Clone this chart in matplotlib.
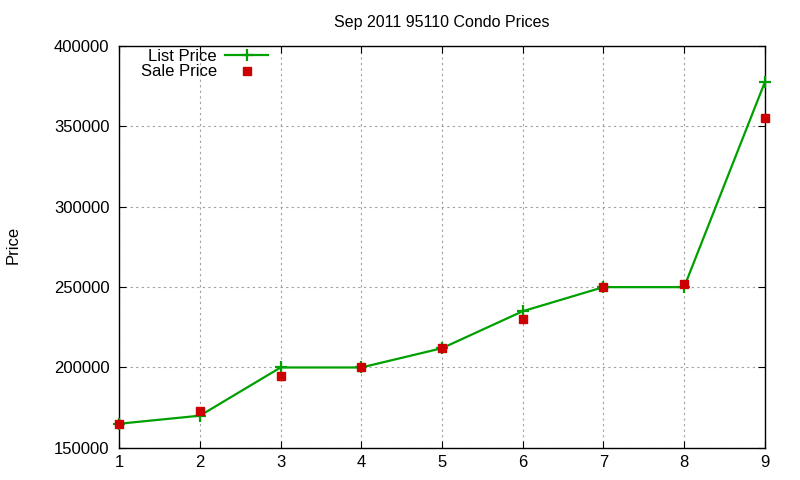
import matplotlib
matplotlib.use("Agg")
import matplotlib.pyplot as plt

plt.rcParams['font.family'] = ['Liberation Sans', 'DejaVu Sans']

months = [1, 2, 3, 4, 5, 6, 7, 8, 9]
list_price = [165000, 170000, 200000, 200000, 212000, 235000, 250000, 250000, 377500]
sale_price = [165000, 173000, 195000, 200000, 212000, 230000, 250000, 252000, 355000]

fig = plt.figure(figsize=(8, 4.8), dpi=100)
ax = fig.add_axes([0.149, 0.067, 0.807, 0.837])

ax.plot(months, list_price, color='#00a000', lw=1.6, marker='+', ms=9, mew=1.6,
        label='List Price', clip_on=False, zorder=3)
ax.plot(months, sale_price, ls='none', color='#cc0000', marker='s', ms=6,
        label='Sale Price', clip_on=False, zorder=4)

ax.set_xlim(1, 9)
ax.set_ylim(150000, 400000)
ax.set_xticks(months)
ax.set_yticks(range(150000, 400001, 50000))
ax.tick_params(direction='in', top=True, right=True, labelsize=12, length=5)
ax.tick_params(axis='y', pad=7)
ax.tick_params(axis='x', pad=5)
ax.grid(True, color='#a0a0a0', ls=(0, (2, 3)), lw=0.8)
for s in ax.spines.values():
    s.set_linewidth(1.0)

ax.set_title('Sep 2011 95110 Condo Prices', fontsize=11.5, pad=14)
# y label placed near the left edge, as gnuplot does
fig.text(0.016, 0.49, 'Price', rotation=90, fontsize=12, ha='center', va='center')

leg = ax.legend(loc='upper left', bbox_to_anchor=(0.015, 1.023), markerfirst=False,
                frameon=False, fontsize=12, handlelength=2.6, handletextpad=0.5,
                labelspacing=0.05, borderaxespad=0.3)

fig.savefig('out.png', dpi=100)
